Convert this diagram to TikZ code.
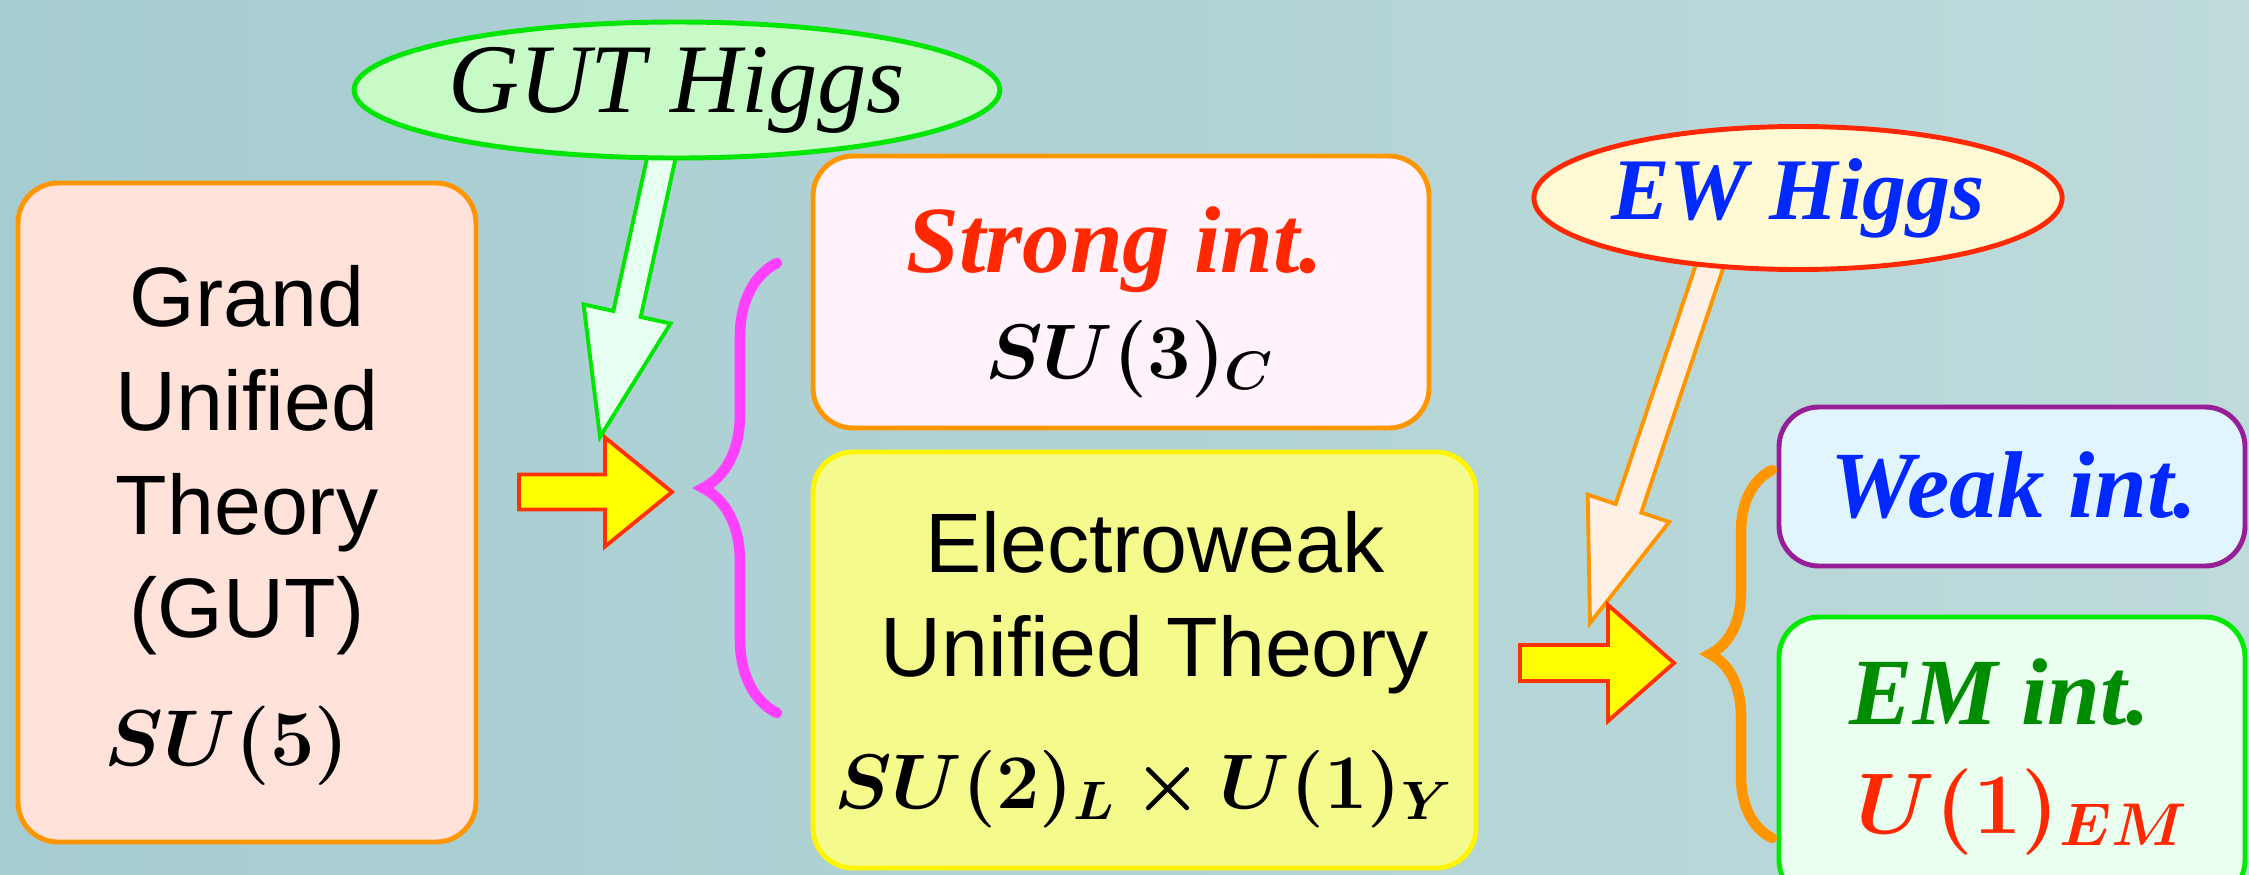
\documentclass[tikz,border=0pt]{standalone}
\usepackage{fix-cm}
\usepackage{amsmath,bm}
\usepackage[no-math]{fontspec}
\usepackage{tikz}
\usetikzlibrary{shapes.geometric, calc, decorations.pathreplacing, backgrounds}
\newfontfamily\sanslabel{Liberation Sans}
\newfontfamily\seriflabel{Liberation Serif}
\definecolor{bgleft}{RGB}{165, 204, 208}
\definecolor{bgmid}{RGB}{204, 225, 225}
\definecolor{bgright}{RGB}{190, 218, 219}
\definecolor{boxorange}{RGB}{255, 150, 0}
\definecolor{gutfill}{RGB}{255, 226, 218}
\definecolor{strongfill}{RGB}{255, 242, 250}
\definecolor{ewfill}{RGB}{245, 250, 140}
\definecolor{ewborder}{RGB}{255, 245, 0}
\definecolor{weakfill}{RGB}{225, 245, 255}
\definecolor{weakborder}{RGB}{150, 30, 150}
\definecolor{emfill}{RGB}{235, 255, 240}
\definecolor{emborder}{RGB}{0, 235, 0}
\definecolor{higgsgreen}{RGB}{0, 230, 0}
\definecolor{guthiggsfill}{RGB}{200, 250, 200}
\definecolor{ewhiggsfill}{RGB}{255, 250, 212}
\definecolor{higgsred}{RGB}{255, 40, 0}
\definecolor{gutarrowfill}{RGB}{230, 255, 240}
\definecolor{ewarrowfill}{RGB}{255, 240, 230}
\definecolor{arrowyellow}{RGB}{255, 255, 0}
\definecolor{arrowred}{RGB}{255, 50, 0}
\definecolor{bracemagenta}{RGB}{255, 64, 255}
\definecolor{labelred}{RGB}{255, 40, 0}
\definecolor{labelblue}{RGB}{0, 40, 255}
\definecolor{labelgreen}{RGB}{0, 140, 0}
% block arrow: style, tail, tip, half shaft, half head, head length
\newcommand{\fatarrow}[6]{%
  \coordinate (#3-base) at ($(#3)!#6!(#2)$);
  \draw[#1] ($(#2)!#4!90:(#3)$) -- ($(#3-base)!#4!-90:(#2)$) -- ($(#3-base)!#5!-90:(#2)$)
    -- (#3) -- ($(#3-base)!#5!90:(#2)$) -- ($(#3-base)!#4!90:(#2)$) -- ($(#2)!#4!-90:(#3)$) -- cycle;
}
\tikzset{
  groupbox/.style={
    rectangle, rounded corners=0.4cm, line width=1.4pt, inner sep=0pt
  },
  gutbox/.style={groupbox, draw=boxorange, fill=gutfill},
  strongbox/.style={groupbox, draw=boxorange, fill=strongfill},
  ewbox/.style={groupbox, draw=ewborder, fill=ewfill},
  weakbox/.style={groupbox, draw=weakborder, fill=weakfill},
  embox/.style={groupbox, draw=emborder, fill=emfill},
  higgsblob/.style={ellipse, line width=1.4pt, inner sep=0pt},
  sanstext/.style={font=\sanslabel\fontsize{24}{29.5}\selectfont, align=center, inner sep=0pt},
  forcelabel/.style={font=\seriflabel\bfseries\itshape\fontsize{27}{30}\selectfont, inner sep=0pt},
  grouplabel/.style={font=\fontsize{22}{26}\selectfont, inner sep=0pt},
  breakarrow/.style={draw=arrowred, fill=arrowyellow, line width=1.1pt, line join=miter},
  curlybrace/.style={decorate, decoration={brace, amplitude=#1}, line width=3pt, line cap=round}
}

\begin{document}
\begin{tikzpicture}
  \useasboundingbox (0,0) rectangle (22.49,-8.74);

  % GUT
  \node[gutbox, minimum width=4.58cm, minimum height=6.59cm] (gut) at (2.47,-5.125) {};
  \node[sanstext, anchor=north] (gutText) at (2.47,-2.65) {Grand\\Unified\\Theory\\(GUT)};
  \node[grouplabel, anchor=base, font=\fontsize{22.5}{26}\selectfont] (gutGroup) at (2.27,-7.65) {$\bm{SU(5)}$};

  % Higgs
  \node[higgsblob, draw=higgsgreen, fill=guthiggsfill, minimum width=5.37cm, minimum height=1.36cm,
    font=\seriflabel\itshape\fontsize{28}{30}\selectfont] (gutHiggs) at (6.77,-0.90) {GUT Higgs};
  \node[higgsblob, draw=higgsred, fill=ewhiggsfill, minimum width=5.12cm, minimum height=1.43cm,
    font=\seriflabel\bfseries\itshape\fontsize{25}{30}\selectfont, text=labelblue] (ewHiggs) at (17.98,-1.98) {EW Higgs};

  % Strong + Electroweak
  \node[strongbox, minimum width=6.16cm, minimum height=2.72cm] (strong) at (11.21,-2.92) {};
  \node[forcelabel, text=labelred, anchor=base] (strongLbl) at (11.15,-2.72) {Strong int.};
  \node[grouplabel, anchor=base] (strongGroup) at (11.30,-3.78) {$\bm{SU(3)_C}$};

  \node[ewbox, minimum width=6.63cm, minimum height=4.16cm] (ew) at (11.445,-6.60) {};
  \node[sanstext, anchor=north] (ewText) at (11.55,-5.11) {Electroweak\\Unified Theory};
  \node[grouplabel, anchor=base] (ewGroup) at (11.44,-8.08) {$\bm{SU(2)_L\times U(1)_Y}$};

  % Weak + EM
  \node[weakbox, minimum width=4.66cm, minimum height=1.59cm] (weak) at (20.12,-4.865) {};
  \node[forcelabel, text=labelblue, anchor=base] (weakLbl) at (20.14,-5.17) {Weak int.};

  \node[embox, minimum width=4.66cm, minimum height=2.83cm] (em) at (20.12,-7.585) {};
  \node[forcelabel, text=labelgreen, anchor=base] (emLbl) at (20.00,-7.24) {EM int.};
  \node[grouplabel, text=labelred, anchor=base, font=\fontsize{24.5}{28}\selectfont] (emGroup) at (20.23,-8.33) {$\bm{U(1)_{EM}}$};

  % Braces
  \draw[curlybrace=0.74cm, draw=bracemagenta] (7.77,-7.13) -- (7.77,-2.63);
  \draw[curlybrace=0.62cm, draw=boxorange] (17.72,-8.38) -- (17.72,-4.70);

  % Arrows
  \coordinate (gutTail) at ($(gutHiggs.south)+(-0.14,0.10)$);
  \coordinate (gutTip) at (6.00,-4.37);
  \coordinate (ewTail) at ($(ewHiggs.south)+(-0.86,0.13)$);
  \coordinate (ewTip) at (15.90,-6.23);
  \coordinate (aTail) at (5.19,-4.92);
  \coordinate (aTip) at (6.72,-4.92);
  \coordinate (bTail) at (15.20,-6.63);
  \coordinate (bTip) at (16.74,-6.63);

  \begin{scope}[on background layer]
    \shade[left color=bgleft, middle color=bgmid, right color=bgright] (0,0) rectangle (22.49,-8.74);
    \fatarrow{draw=higgsgreen, fill=gutarrowfill, line width=1.1pt}{gutTail}{gutTip}{0.14cm}{0.445cm}{1.26cm}
    \fatarrow{draw=boxorange, fill=ewarrowfill, line width=1.1pt}{ewTail}{ewTip}{0.135cm}{0.43cm}{1.21cm}
  \end{scope}

  \fatarrow{breakarrow}{aTail}{aTip}{0.175cm}{0.545cm}{0.67cm}
  \fatarrow{breakarrow}{bTail}{bTip}{0.18cm}{0.58cm}{0.66cm}

\end{tikzpicture}
\end{document}
